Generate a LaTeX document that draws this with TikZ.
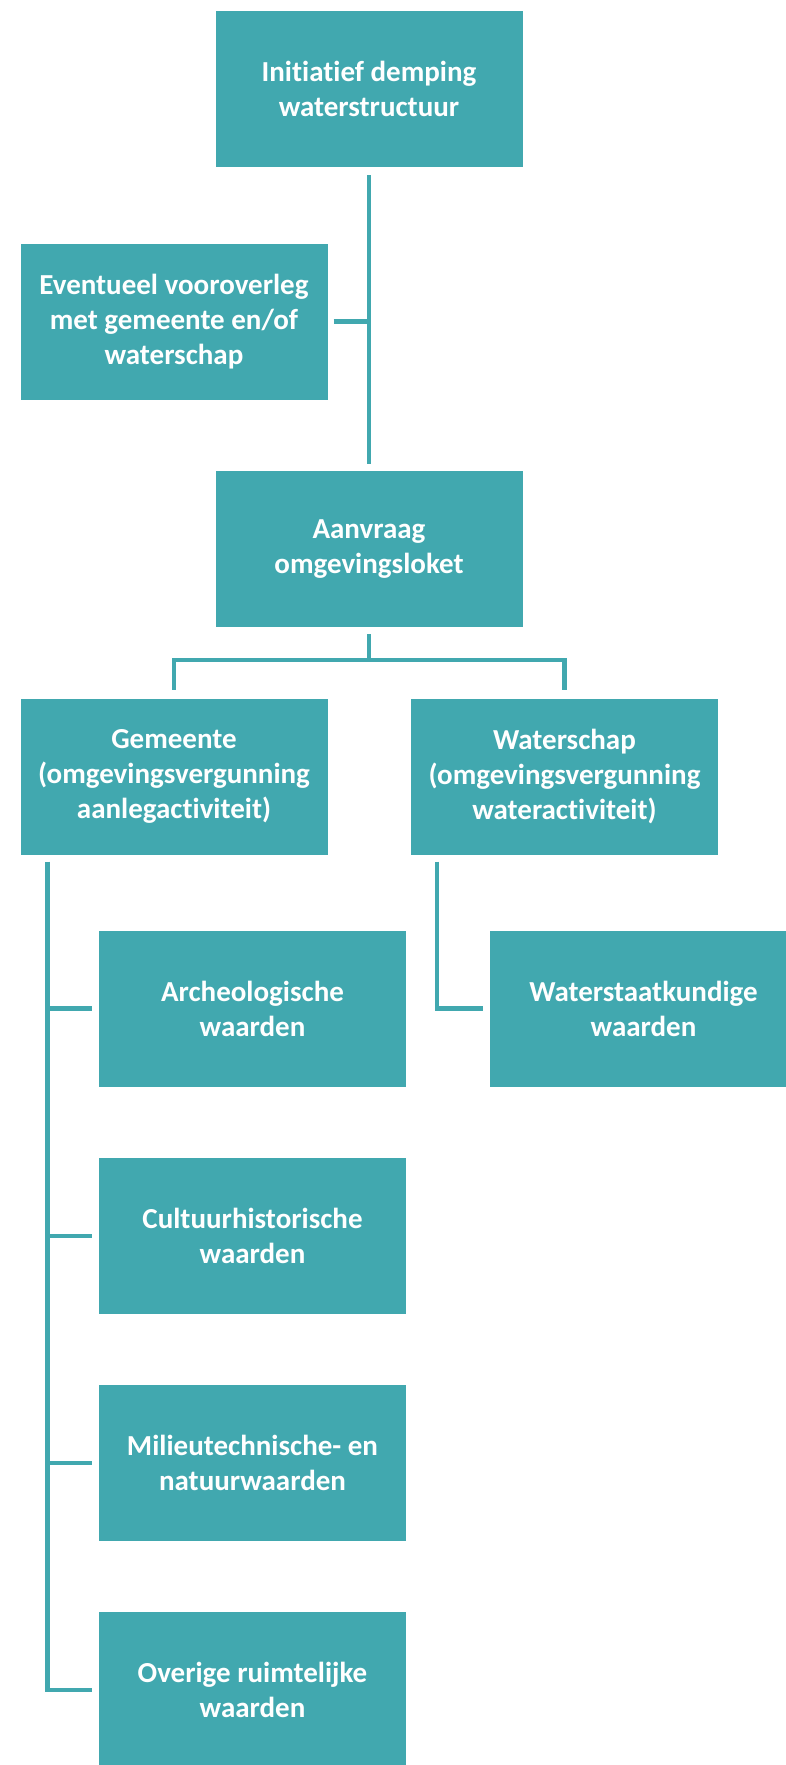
\documentclass[tikz,border=0pt]{standalone}
\usepackage{fontspec}
\setmainfont{Carlito}[Ligatures=NoCommon]
\usetikzlibrary{calc}
\definecolor{teal1}{HTML}{41A8AF}

\begin{document}
\begin{tikzpicture}[x=1pt,y=-1pt]
\useasboundingbox (0,0) rectangle (786,1765);
\clip (0,0) rectangle (786,1765);
\tikzstyle{box} = [fill=teal1, text=white, minimum width=307pt, minimum height=156pt,
  inner sep=0pt, align=center, font=\fontsize{29}{35}\selectfont\bfseries];
\tikzstyle{link} = [draw=teal1, line width=4.5pt, line join=miter];
\node[box] (init) at (369, 89) {Initiatief demping\\waterstructuur};
\node[box] (overleg) at (174, 321.5) {Eventueel vooroverleg\\met gemeente en/of\\waterschap};
\node[box] (aanvraag) at (369, 549) {Aanvraag\\omgevingsloket};
\draw[link, shorten <=8pt, shorten >=7pt] (init) -- (aanvraag);
\draw[link, shorten <=6pt] (overleg.east) -- (overleg.east -| init.south);
%
\node[box] (gemeente) at (174, 776.5) {Gemeente\\(omgevingsvergunning\\aanlegactiviteit)};
\node[box] (waterschap) at (564.5, 776.5) {Waterschap\\(omgevingsvergunning\\wateractiviteit)};
\draw[link, shorten <=7pt, shorten >=8pt] (aanvraag.south) -- ++(0,33) -| (gemeente.north);
\draw[link, shorten <=7pt, shorten >=8pt] (aanvraag.south) -- ++(0,33) -| (waterschap.north);

\node[box] (archeo) at (252.5, 1008.5) {Archeologische\\waarden};
\node[box] (cultuur) at (252.5, 1236) {Cultuurhistorische\\waarden};
\node[box] (milieu) at (252.5, 1463) {Milieutechnische- en\\natuurwaarden};
\node[box] (overig) at (252.5, 1690) {Overige ruimtelijke\\waarden};
\node[box] (waterstaat) at (643.5, 1008.5) {Waterstaatkundige\\waarden};

\coordinate (gtrunk) at ($(gemeente.south west)+(27,0)$);
\coordinate (wtrunk) at ($(waterschap.south west)+(26,0)$);
\draw[link, shorten <=7pt, shorten >=7pt] (gtrunk) |- (overig.west);
\draw[link, shorten >=7pt] (archeo.west -| gtrunk) -- (archeo.west);
\draw[link, shorten >=7pt] (cultuur.west -| gtrunk) -- (cultuur.west);
\draw[link, shorten >=7pt] (milieu.west -| gtrunk) -- (milieu.west);
\draw[link, shorten <=7pt, shorten >=7pt] (wtrunk) |- (waterstaat.west);
\end{tikzpicture}
\end{document}
